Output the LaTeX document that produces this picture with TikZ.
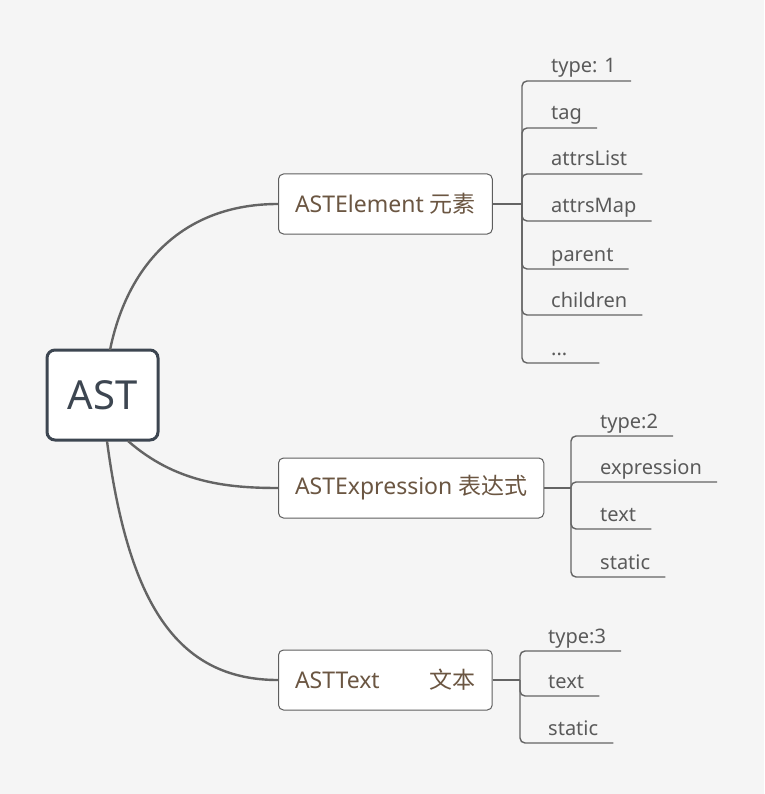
\documentclass[tikz,border=0pt]{standalone}
\usepackage{fontspec}
\setmainfont{Noto Sans}
\newfontfamily\cjk{Noto Sans CJK SC}
\usetikzlibrary{calc}
\definecolor{bgc}{HTML}{F5F5F5}
\definecolor{rootc}{HTML}{3D4651}
\definecolor{boxtext}{HTML}{6B5642}
\definecolor{linec}{HTML}{646464}
\definecolor{leafc}{HTML}{5A5A5A}
\definecolor{boxline}{HTML}{5E5E5E}
\tikzset{
  rootbox/.style={draw=rootc, line width=3pt, fill=white, rounded corners=8pt,
    minimum width=111pt, minimum height=90pt, inner sep=0pt, text=rootc,
    font=\fontsize{40}{44}\selectfont},
  topicbox/.style={draw=boxline, line width=1pt, fill=white, rounded corners=5pt,
    anchor=west, minimum height=60pt, inner xsep=16.5pt, inner ysep=0pt, text=boxtext,
    font=\fontsize{23}{26}\selectfont},
  leaf/.style={anchor=base west, inner sep=0pt, text=leafc, font=\fontsize{20}{22}\selectfont},
  branch/.style={draw=linec, line width=2.4pt},
  stem/.style={draw=linec, line width=2.2pt},
  uline/.style={draw=linec, line width=1.4pt, rounded corners=5pt},
}
\begin{document}
\begin{tikzpicture}[x=1pt, y=-1pt]
\fill[bgc] (0,0) rectangle (764,794);
\useasboundingbox (0,0) rectangle (764,794);

\node[rootbox] (root) at (102.5,395) {AST};

\node[topicbox] (el) at (278,204) {ASTElement {\cjk 元素}};
\node[topicbox] (ex) at (278,488) {ASTExpression {\cjk 表达式}};
\node[topicbox] (tx) at (278,680) {ASTText\hspace{50pt}{\cjk 文本}};

\coordinate (r1) at (110,350);
\coordinate (r2) at (128,441);
\coordinate (r3) at (107,441);
\draw[branch] (r1) .. controls (128,262) and (185,204) .. (el.west);
\draw[branch] (r2) .. controls (175,482) and (225,488) .. (ex.west);
\draw[branch] (r3) .. controls (128,600) and (175,680) .. (tx.west);

% ASTElement children
\coordinate (ej) at (522,204);
\draw[stem] (el.east) -- (ej);
\node[leaf] (e1) at (551,73) {type: 1};
\node[leaf] (e2) at (551,120) {tag};
\node[leaf] (e3) at (551,166) {attrsList};
\node[leaf] (e4) at (551,213) {attrsMap};
\node[leaf] (e5) at (551,261) {parent};
\node[leaf] (e6) at (551,307) {children};
\node[leaf] (e7) at (551,355) {...};
\foreach \n in {e1,e2,e3,e4,e5,e6}
  \draw[uline] (ej) |- ($(\n.base east)+(15,8)$);
\draw[uline] (ej) |- ($(e7.base east)+(32,8)$);

% ASTExpression children
\coordinate (xj) at (571,488);
\draw[stem] (ex.east) -- (xj);
\node[leaf] (x1) at (600,428) {type:2};
\node[leaf] (x2) at (600,474) {expression};
\node[leaf] (x3) at (600,521) {text};
\node[leaf] (x4) at (600,569) {static};
\foreach \n in {x1,x2,x3,x4}
  \draw[uline] (xj) |- ($(\n.base east)+(15,8)$);

% ASTText children
\coordinate (tj) at (520,680);
\draw[stem] (tx.east) -- (tj);
\node[leaf] (t1) at (548,643) {type:3};
\node[leaf] (t2) at (548,688) {text};
\node[leaf] (t3) at (548,735) {static};
\foreach \n in {t1,t2,t3}
  \draw[uline] (tj) |- ($(\n.base east)+(15,8)$);
\end{tikzpicture}
\end{document}
